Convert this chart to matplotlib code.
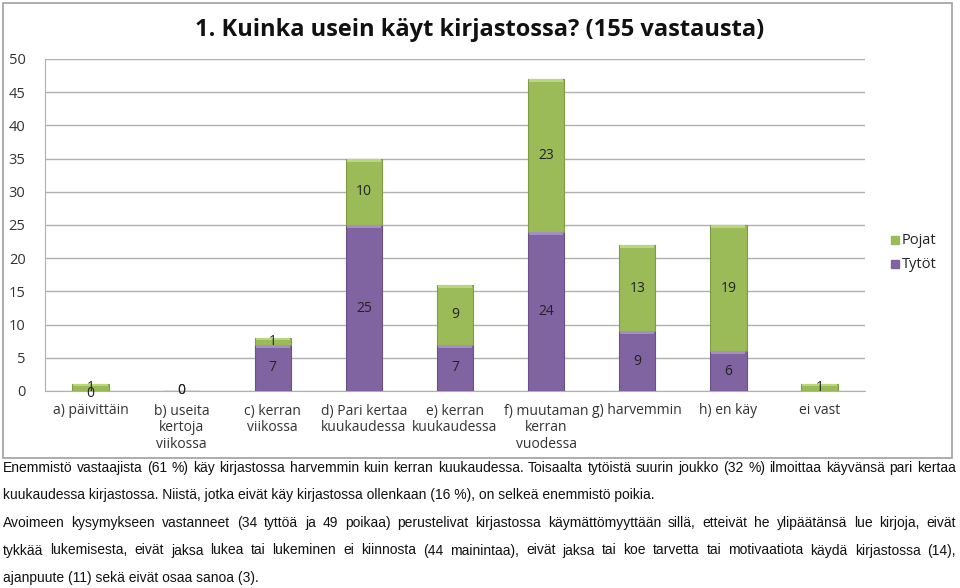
import numpy as np
import matplotlib
matplotlib.use("Agg")
import matplotlib.pyplot as plt
from matplotlib.patches import Rectangle

# ── data ─────────────────────────────────────────────
categories = ["a) päivittäin", "b) useita\nkertoja\nviikossa", "c) kerran\nviikossa",
              "d) Pari kertaa\nkuukaudessa", "e) kerran\nkuukaudessa",
              "f) muutaman\nkerran\nvuodessa", "g) harvemmin", "h) en käy", "ei vast"]
tytot = [0, 0, 7, 25, 7, 24, 9, 6, None]
pojat = [1, 0, 1, 10, 9, 23, 13, 19, 1]

title = "1. Kuinka usein käyt kirjastossa? (155 vastausta)"
yticks = [0, 5, 10, 15, 20, 25, 30, 35, 40, 45, 50]

paragraph_lines = [
    ("Enemmistö vastaajista (61 %) käy kirjastossa harvemmin kuin kerran kuukaudessa. "
     "Toisaalta tytöistä suurin joukko (32 %) ilmoittaa käyvänsä pari kertaa", True),
    ("kuukaudessa kirjastossa. Niistä, jotka eivät käy kirjastossa ollenkaan (16 %), "
     "on selkeä enemmistö poikia.", False),
    ("Avoimeen kysymykseen vastanneet (34 tyttöä ja 49 poikaa) perustelivat kirjastossa "
     "käymättömyyttään sillä, etteivät he ylipäätänsä lue kirjoja, eivät", True),
    ("tykkää lukemisesta, eivät jaksa lukea tai lukeminen ei kiinnosta (44 mainintaa), "
     "eivät jaksa tai koe tarvetta tai motivaatiota käydä kirjastossa (14),", True),
    ("ajanpuute (11) sekä eivät osaa sanoa (3).", False),
]

PURPLE = "#8064a2"
GREEN = "#9bbb59"
CHART_FONT = ["Open Sans", "DejaVu Sans"]
TEXT_FONT = ["Liberation Sans", "DejaVu Sans"]

W, H = 960, 588
fig = plt.figure(figsize=(W / 100, H / 100), dpi=100)

# chart border
fig.patches.append(Rectangle((3 / W, 1 - 458 / H), 949 / W, 455 / H,
                             transform=fig.transFigure, fill=False,
                             edgecolor="#a0a0a0", lw=1.2))

ax = fig.add_axes([45 / W, 1 - 391 / H, 820 / W, 332 / H])
x = np.arange(len(categories))
t_vals = np.array([v if v is not None else 0 for v in tytot], dtype=float)
p_vals = np.array(pojat, dtype=float)

bw = 0.4
ax.bar(x, t_vals, bw, color=PURPLE, edgecolor="#6a5189", lw=0.8, zorder=3)
ax.bar(x, p_vals, bw, bottom=t_vals, color=GREEN, edgecolor="#7f9c45", lw=0.8, zorder=3)
# light bevel on the top of each segment
for xi, b, h, c in list(zip(x, np.zeros_like(t_vals), t_vals, ["#a48ec2"] * len(x))) + \
        list(zip(x, t_vals, p_vals, ["#bcd67e"] * len(x))):
    if h > 0:
        hh = min(0.45, h * 0.3)
        ax.bar(xi, hh, bw * 0.94, bottom=b + h - hh, color=c, lw=0, zorder=4)

# value labels
for i in range(len(categories)):
    if tytot[i] is not None:
        ax.text(x[i], t_vals[i] / 2 - (0.35 if i == 0 else 0), str(tytot[i]),
                ha="center", va="center", fontsize=10, color="#222222",
                family=CHART_FONT, zorder=5)
    ax.text(x[i], t_vals[i] + p_vals[i] / 2, str(pojat[i]), ha="center",
            va="center", fontsize=10, color="#222222", family=CHART_FONT, zorder=5)

ax.set_xlim(-0.5, len(categories) - 0.5)
ax.set_ylim(0, 50)
ax.set_yticks(yticks)
ax.set_yticklabels([str(v) for v in yticks], family=CHART_FONT, fontsize=10.5,
                   color="#333333")
ax.set_xticks(x)
ax.set_xticklabels(categories, family=CHART_FONT, fontsize=10, color="#333333",
                   linespacing=1.18, va="top")
ax.tick_params(axis="x", length=0, pad=9)
ax.tick_params(axis="y", length=0, pad=14)
ax.grid(axis="y", color="#b0b0b0", lw=1, zorder=0)
for s in ["top", "right"]:
    ax.spines[s].set_visible(False)
ax.spines["left"].set_color("#b0b0b0")
ax.spines["bottom"].set_color("#b0b0b0")

fig.text(480 / W, 1 - 30 / H, title, ha="center", va="center", fontsize=17,
         fontweight="bold", family=CHART_FONT, color="#111111")

# legend
for j, (lab, col) in enumerate([("Pojat", GREEN), ("Tytöt", PURPLE)]):
    yy = 1 - (240 + j * 24) / H
    fig.patches.append(Rectangle((891 / W, yy - 4 / H), 8 / W, 8 / H,
                                 transform=fig.transFigure, color=col))
    fig.text(902 / W, yy, lab, ha="left", va="center", fontsize=10.5,
             family=CHART_FONT, color="#222222")

# paragraph text, justified lines
fig.canvas.draw()
renderer = fig.canvas.get_renderer()
left_px, right_px = 3, 956
fs = 10
for k, (line, justify) in enumerate(paragraph_lines):
    ypx = 472 + k * 27.5
    yf = 1 - ypx / H
    if not justify:
        fig.text(left_px / W, yf, line, ha="left", va="baseline", fontsize=fs,
                 family=TEXT_FONT, color="#111111")
        continue
    words = line.split(" ")
    widths = []
    for wd in words:
        t = fig.text(0, 0, wd, fontsize=fs, family=TEXT_FONT)
        widths.append(t.get_window_extent(renderer).width)
        t.remove()
    gap = (right_px - left_px - sum(widths)) / (len(words) - 1)
    cur = left_px
    for wd, wpx in zip(words, widths):
        fig.text(cur / W, yf, wd, ha="left", va="baseline", fontsize=fs,
                 family=TEXT_FONT, color="#111111")
        cur += wpx + gap

fig.savefig("out.png", dpi=100)
